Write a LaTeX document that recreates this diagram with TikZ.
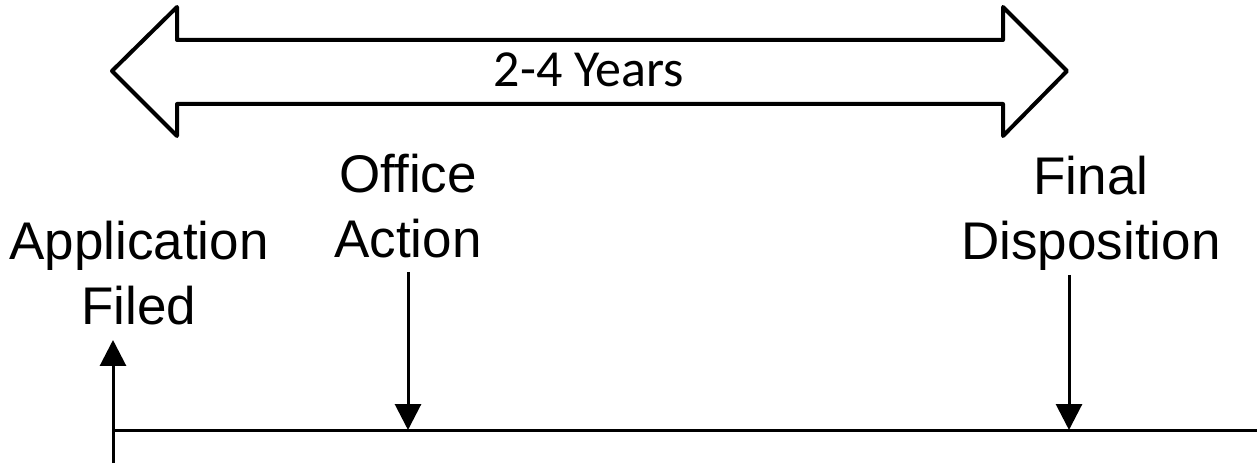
\documentclass[tikz,border=0pt]{standalone}
\usepackage{fontspec}
\setmainfont{Liberation Sans}
\newfontfamily\yearsfont{Carlito}
\usetikzlibrary{arrows.meta,positioning}

\begin{document}
\begin{tikzpicture} [x=0.5pt,y=-0.5pt,line width=1.5pt,
  marker/.style={-{Triangle[width=13pt,length=13pt]}},
  event/.style={align=center,anchor=base,inner sep=0pt,font=\fontsize{26.5pt}{32.5pt}\selectfont}]

  \useasboundingbox (0,0) rectangle (1257,464);

  % span arrow
  \draw[line width=2pt,line join=round]
    (112,71) -- (177,7) -- (177,40) -- (1003,40) -- (1003,7) -- (1067,71)
    -- (1003,136) -- (1003,104) -- (177,104) -- (177,136) -- cycle;
  \node[inner sep=0pt,anchor=base,font=\yearsfont\fontsize{26pt}{31pt}\selectfont] (span) at (589,87) {2-4 Years};

  % timeline
  \coordinate (start) at (113,430);
  \coordinate (stop) at (1257,430);
  \coordinate (below) at (113,463);
  \coordinate (filed) at (113,340);
  \coordinate (oa) at (408,430);
  \coordinate (fd) at (1069,430);
  \draw (start) -- (stop);

  \node[event] (1) at (139,325) {Application\\Filed};
  \node[event] (2) at (408,258) {Office\\Action};
  \node[event] (3) at (1091,260) {Final\\Disposition};

  \draw[marker] (below) -- (filed);
  \draw[marker] (408,272) -- (oa);
  \draw[marker] (1069,275) -- (fd);

\end{tikzpicture}
\end{document}
